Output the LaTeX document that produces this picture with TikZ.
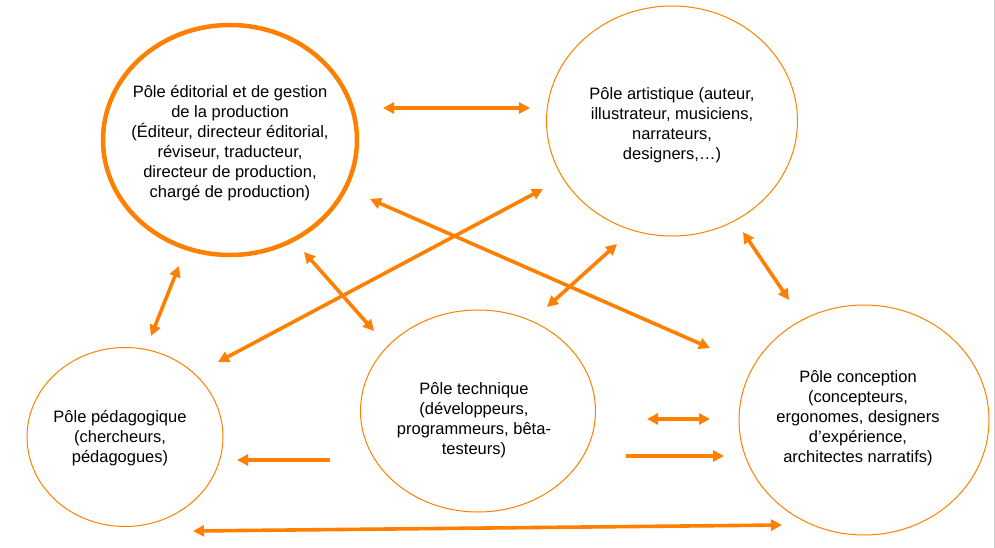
\documentclass[tikz,border=0pt]{standalone}
\usepackage{fontspec}
\setmainfont{Liberation Sans}
\usetikzlibrary{shapes.geometric,arrows.meta}
\definecolor{poleOrange}{RGB}{255,128,0}
\tikzset{
  pole/.style={ellipse,draw=poleOrange,line width=1pt,inner sep=0pt},
  poletxt/.style={align=center,font=\fontsize{16.5}{20}\selectfont},
  fleche/.style={draw=poleOrange,line width=3.6pt,{Triangle[length=11pt,width=11pt]}-{Triangle[length=11pt,width=11pt]}},
  fleche1/.style={draw=poleOrange,line width=3.6pt,-{Triangle[length=11pt,width=11pt]}}
}

\begin{document}
\begin{tikzpicture}[x=1pt,y=-1pt]
	\useasboundingbox (0,0) rectangle (995,548);
	\draw[gray!40,line width=1pt] (994,0) -- (994,548);
	% les poles
	\node[pole,line width=4.5pt,minimum width=254,minimum height=230] (edit) at (230,140) {};
	\node[pole,minimum width=251,minimum height=230] (art) at (672,121) {};
	\node[pole,minimum width=196,minimum height=179] (peda) at (125,437) {};
	\node[pole,minimum width=235,minimum height=202] (tech) at (478,411) {};
	\node[pole,minimum width=250,minimum height=230] (conc) at (864,420) {};
	\node[poletxt] (edittxt) at (230,143) {P\^ole \'editorial et de gestion\\de la production\\(\'Editeur, directeur \'editorial,\\r\'eviseur, traducteur,\\directeur de production,\\charg\'e de production)};
	\node[poletxt] (arttxt) at (672,125) {P\^ole artistique (auteur,\\illustrateur, musiciens,\\narrateurs,\\designers,\dots)};
	\node[poletxt] (pedatxt) at (120,438) {P\^ole p\'edagogique\\(chercheurs,\\p\'edagogues)};
	\node[poletxt] (techtxt) at (474,420) {P\^ole technique\\(d\'eveloppeurs,\\programmeurs, b\^eta-\\testeurs)};
	\node[poletxt] (conctxt) at (858,418) {P\^ole conception\\(concepteurs,\\ergonomes, designers\\d'exp\'erience,\\architectes narratifs)};
	% extremites des fleches
	\coordinate (ea) at (383,108); \coordinate (ae) at (530,108);
	\coordinate (ec) at (370,199); \coordinate (ce) at (710,348);
	\coordinate (pa) at (218,362); \coordinate (ap) at (543,189);
	\coordinate (et) at (304,252); \coordinate (te) at (374,331);
	\coordinate (ep) at (179,266); \coordinate (pe) at (151,336);
	\coordinate (at) at (617,244); \coordinate (ta) at (547,307);
	\coordinate (ac) at (743,232); \coordinate (ca) at (789,300);
	\coordinate (tc1) at (647,419); \coordinate (ct1) at (710,419);
	\coordinate (tc2) at (626,456); \coordinate (ct2) at (724,456);
	\coordinate (tp) at (330,460); \coordinate (pt) at (237,460);
	\coordinate (pc) at (193,531); \coordinate (cp) at (782,525);
	% les fleches
	\draw[fleche] (ea) -- (ae);
	\draw[fleche] (ec) -- (ce);
	\draw[fleche] (pa) -- (ap);
	\draw[fleche] (et) -- (te);
	\draw[fleche] (ep) -- (pe);
	\draw[fleche] (at) -- (ta);
	\draw[fleche] (ac) -- (ca);
	\draw[fleche] (tc1) -- (ct1);
	\draw[fleche1] (tc2) -- (ct2);
	\draw[fleche1] (tp) -- (pt);
	\draw[fleche] (pc) -- (cp);
\end{tikzpicture}
\end{document}
